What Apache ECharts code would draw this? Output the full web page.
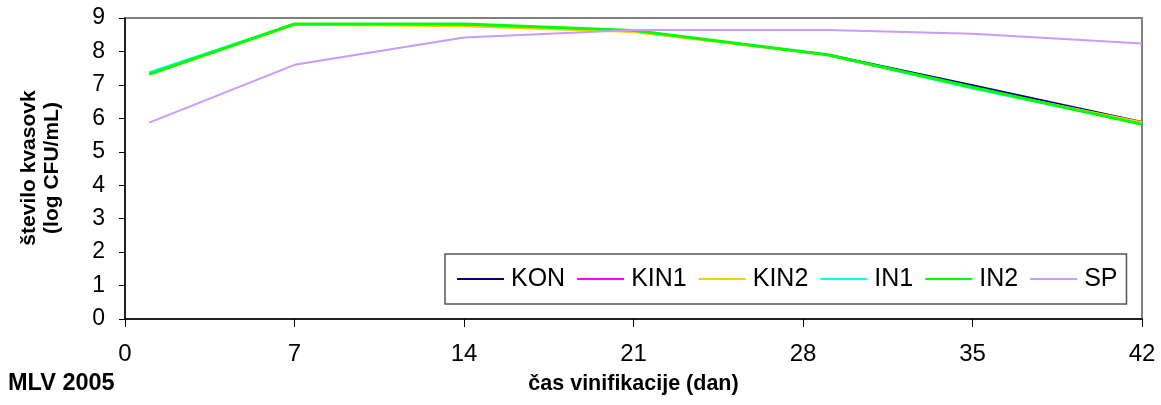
<!DOCTYPE html>
<html>
<head>
<meta charset="utf-8">
<script src="https://cdn.jsdelivr.net/npm/echarts@6/dist/echarts.min.js"></script>
<style>
  html, body { margin: 0; padding: 0; background: #ffffff; }
  #chart { width: 1161px; height: 405px; }
</style>
</head>
<body>
<div id="chart"></div>
<script>
// Sampling days during vinification
const days = [1, 7, 14, 21, 29, 35, 42];

// Yeast counts, log CFU/mL, per treatment
const kon  = [7.32, 8.82, 8.80, 8.62, 7.91, 6.99, 5.89];
const kin1 = [7.32, 8.82, 8.78, 8.60, 7.90, 6.91, 5.86];
const kin2 = [7.31, 8.80, 8.75, 8.58, 7.89, 6.91, 5.88];
const in1  = [7.38, 8.82, 8.82, 8.62, 7.90, 6.89, 5.83];
const in2  = [7.32, 8.82, 8.82, 8.63, 7.90, 6.93, 5.82];
const sp   = [5.87, 7.60, 8.42, 8.64, 8.64, 8.53, 8.24];

const seriesNames = ['KON', 'KIN1', 'KIN2', 'IN1', 'IN2', 'SP'];
const seriesValues = [kon, kin1, kin2, in1, in2, sp];
const seriesColors = ['#000080', '#ff00ff', '#ffcc00', '#00ffff', '#00ff00', '#cc99ff'];
const seriesWidths = [2, 2, 2, 2, 3, 2];

const sans = '"Liberation Sans", Arial, sans-serif';

const chart = echarts.init(document.getElementById('chart'), null, { renderer: 'canvas' });

chart.setOption({
  animation: false,
  backgroundColor: '#ffffff',
  grid: {
    left: 125, right: 19, top: 18, bottom: 86,
    show: true, borderColor: '#808080', borderWidth: 2, backgroundColor: '#ffffff'
  },
  xAxis: {
    type: 'value', min: 0, max: 42, interval: 7,
    axisLine: { lineStyle: { color: '#000000', width: 1.5 } },
    axisTick: { show: true, length: 8, lineStyle: { color: '#000000' } },
    axisLabel: { margin: 23, fontFamily: sans, fontSize: 24, color: '#000000' },
    splitLine: { show: false },
    name: 'čas vinifikacije (dan)',
    nameLocation: 'middle', nameGap: 54,
    nameTextStyle: { fontFamily: sans, fontWeight: 'bold', fontSize: 21.5, color: '#000000' }
  },
  yAxis: {
    type: 'value', min: 0, max: 9, interval: 1,
    axisLine: { show: true, lineStyle: { color: '#000000', width: 1.5 } },
    axisTick: { show: true, length: 6, lineStyle: { color: '#000000' } },
    axisLabel: { margin: 20, fontFamily: sans, fontSize: 23, color: '#000000' },
    splitLine: { show: false }
  },
  legend: {
    left: 445, top: 254,
    orient: 'horizontal',
    backgroundColor: '#ffffff',
    borderColor: '#555555', borderWidth: 1.5,
    padding: [12, 9, 12, 12],
    icon: 'rect',
    itemWidth: 47, itemHeight: 2, itemGap: 12,
    textStyle: { fontFamily: sans, fontSize: 25, lineHeight: 26, color: '#000000', padding: [0, 0, 0, 2] },
    data: seriesNames
  },
  graphic: [
    {
      type: 'text', left: 8, top: 372,
      style: { text: 'MLV 2005', font: 'bold 23.5px ' + sans, fill: '#000000' }
    },
    {
      type: 'text', x: 41, y: 168, rotation: Math.PI / 2,
      style: {
        text: 'število kvasovk\n(log CFU/mL)',
        font: 'bold 21px ' + sans, fill: '#000000',
        align: 'center', verticalAlign: 'middle', lineHeight: 23
      }
    }
  ],
  series: seriesNames.map((name, i) => ({
    name: name,
    type: 'line',
    symbol: 'none',
    data: days.map((d, j) => [d, seriesValues[i][j]]),
    lineStyle: { color: seriesColors[i], width: seriesWidths[i] },
    itemStyle: { color: seriesColors[i] },
    z: 2 + i
  }))
});
</script>
</body>
</html>
